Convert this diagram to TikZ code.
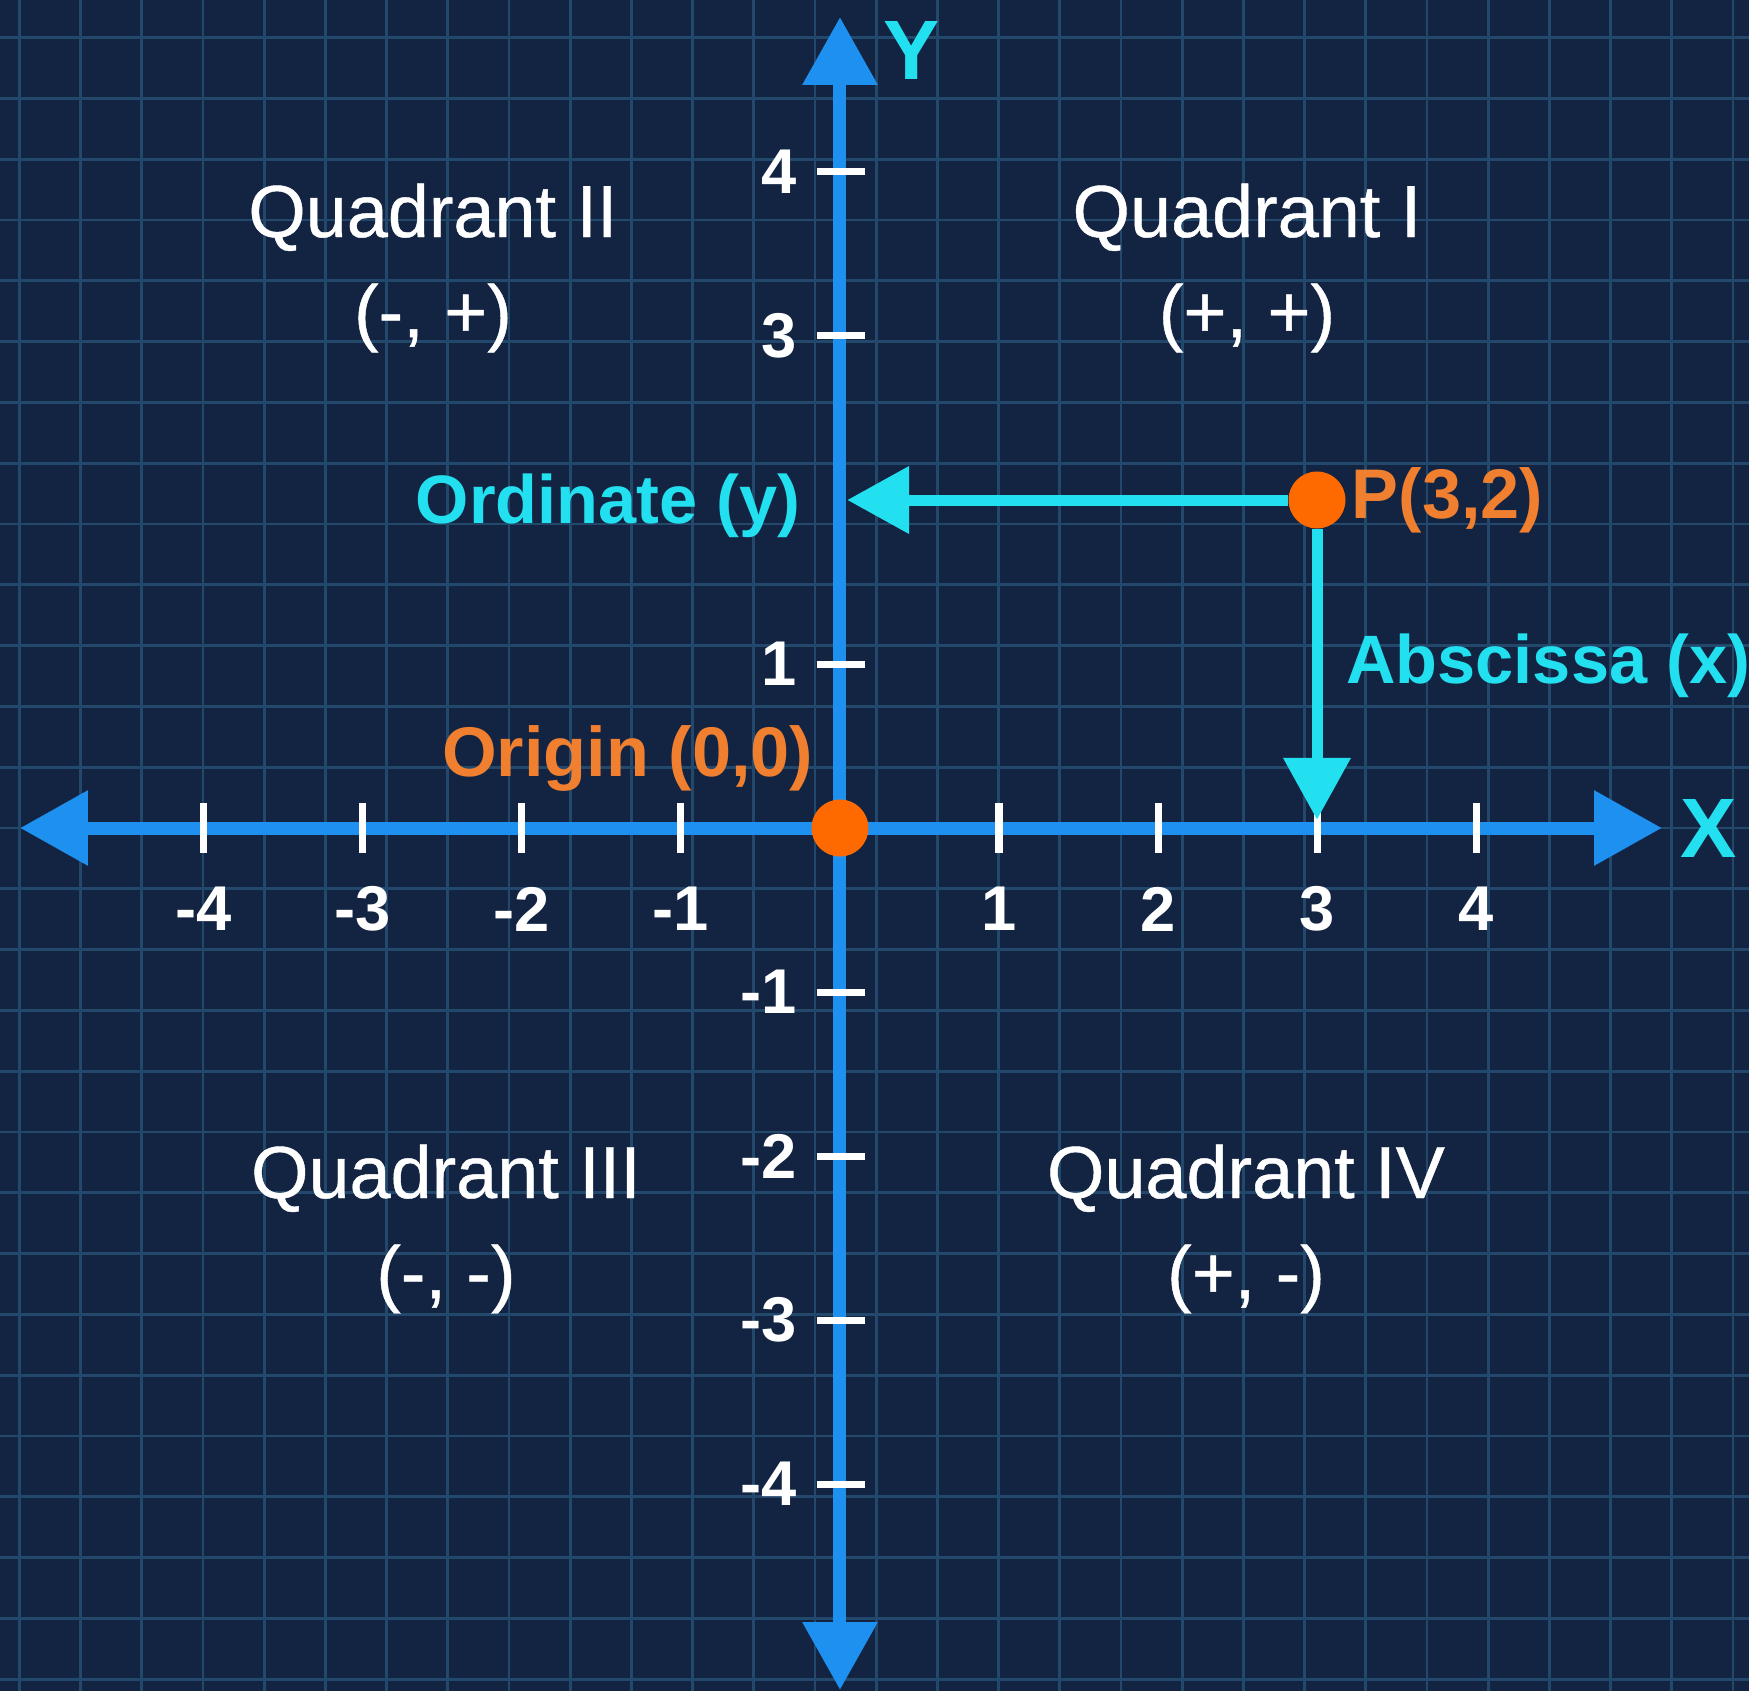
\documentclass[tikz,border=0pt]{standalone}
\usepackage{fontspec}
\setmainfont{Liberation Sans}
\newfontfamily\medsans{Liberation Sans}[FakeBold=0.6]
\usetikzlibrary{arrows.meta, positioning}
\definecolor{boardnavy}{RGB}{19,35,66}
\definecolor{gridblue}{RGB}{34,72,108}
\definecolor{axisblue}{RGB}{30,144,240}
\definecolor{projcyan}{RGB}{34,224,240}
\definecolor{dotorange}{RGB}{255,106,0}
\definecolor{lblorange}{RGB}{240,128,48}

\begin{document}
\begin{tikzpicture}[
    x=1.59cm, y=1.64cm,
    gridline/.style={draw=gridblue, line width=0.8pt},
    axisline/.style={axisblue, line width=0.13cm, {Triangle[width=0.72cm,length=0.68cm]}-{Triangle[width=0.72cm,length=0.68cm]}},
    proj/.style={projcyan, line width=0.11cm, -{Triangle[width=0.65cm,length=0.62cm]}},
    tickmark/.style={white, line width=0.07cm},
    ticklbl/.style={text=white, inner sep=0pt, font=\fontsize{18pt}{22pt}\selectfont\bfseries},
    quad/.style={text=white, align=center, font=\fontsize{21pt}{28.5pt}\selectfont\medsans},
    dot/.style={circle, fill=dotorange, minimum size=0.57cm, inner sep=0pt},
    cyanlbl/.style={text=projcyan, inner sep=0pt, font=\fontsize{19.5pt}{24pt}\selectfont\bfseries},
    orangelbl/.style={text=lblorange, inner sep=0pt, font=\fontsize{20pt}{24pt}\selectfont\bfseries},
    axlbl/.style={text=projcyan, inner sep=0pt, font=\fontsize{24pt}{28pt}\selectfont\bfseries},
]

% --- Board and grid ---
\fill[boardnavy] (-8.40cm,-8.63cm) rectangle (9.09cm,8.28cm);
\useasboundingbox (-8.40cm,-8.63cm) rectangle (9.09cm,8.28cm);
\begin{scope}[x=1cm, y=1cm]
  \foreach \k in {-13,...,15}
    \draw[gridline] ({-0.25+\k*0.612},-8.63) -- ++(0,16.91);
  \foreach \k in {-14,...,13}
    \draw[gridline] (-8.40,{\k*0.608}) -- ++(17.49,0);
\end{scope}

% --- Axes ---
\coordinate (xleft) at (-8.20cm,0);
\coordinate (xright) at (8.22cm,0);
\coordinate (ybot) at (0,-8.62cm);
\coordinate (ytop) at (0,8.11cm);
\draw[axisline] (xleft) -- (xright);
\draw[axisline] (ybot) -- (ytop);

% --- Ticks and numbers (no mark at y=2, where the arrow lands) ---
\foreach \i in {-4,...,-1,1,2,3,4} {
  \draw[tickmark] (\i,0) ++(0,0.25cm) -- ++(0,-0.5cm);
  \node[ticklbl] (xnum\i) at (\i,-0.494) {\i};
}
\foreach \i in {-4,...,-1,1,3,4} {
  \draw[tickmark] (0,\i) ++(-0.23cm,0) -- ++(0.48cm,0);
  \node[ticklbl, anchor=east] (ynum\i) at (-0.27,\i) {\i};
}

\node[axlbl] (xname) at (8.69cm,0) {X};
\node[axlbl] (yname) at (0.72cm,7.78cm) {Y};

% --- Point P and its projections ---
\node[dot] (P) at (3,2) {};
\coordinate (ordfoot) at (0.045,2);
\coordinate (absfoot) at (3,0.05);
\draw[proj] (P) -- (ordfoot);
\draw[proj] (P) -- (absfoot);

\node[orangelbl, right=0.05cm of P] (plbl) {P(3,2)};
\node[cyanlbl, anchor=east] (ordlbl) at (-0.39cm,3.22cm) {Ordinate (y)};
\node[cyanlbl, anchor=west] (abslbl) at (3.18,0.99) {Abscissa (x)};

% --- Origin ---
\node[dot] (O) at (0,0) {};
\node[orangelbl, anchor=east] (olbl) at (-0.26cm,0.70cm) {Origin (0,0)};

% --- Quadrant names ---
\node[quad] (q2) at (-4.07cm,5.60cm) {Quadrant II\\(-, +)};
\node[quad] (q1) at (4.07cm,5.60cm) {Quadrant I\\(+, +)};
\node[quad] (q3) at (-3.94cm,-4.01cm) {Quadrant III\\(-, -)};
\node[quad] (q4) at (4.06cm,-4.01cm) {Quadrant IV\\(+, -)};

\end{tikzpicture}
\end{document}
